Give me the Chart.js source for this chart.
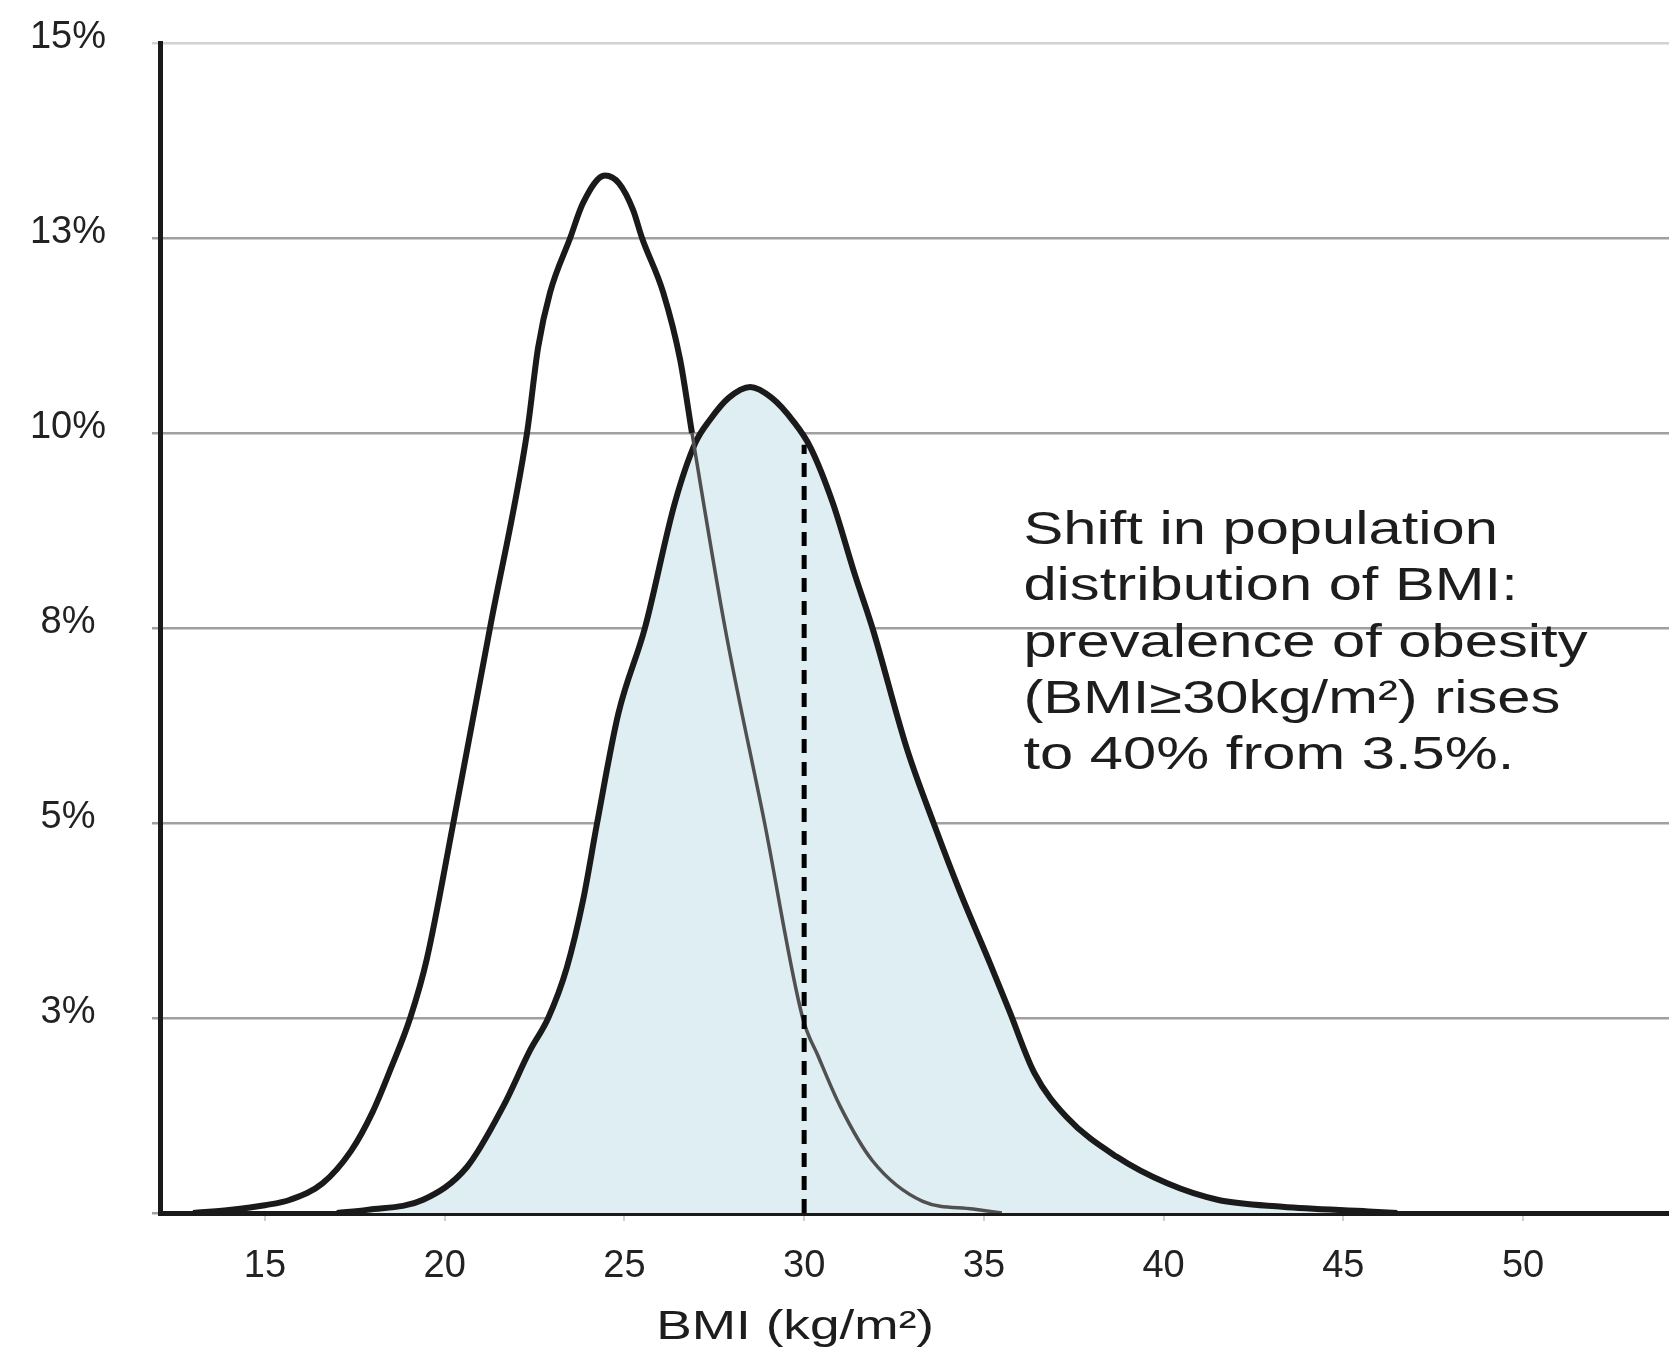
<!DOCTYPE html>
<html>
<head>
<meta charset="utf-8">
<script src="https://cdn.jsdelivr.net/npm/chart.js@4.4.1/dist/chart.umd.min.js"></script>
<style>
  html, body { margin: 0; padding: 0; background: #fff; }
  #bmiChart { display: block; }
</style>
</head>
<body>
<canvas id="bmiChart" width="1669" height="1353"></canvas>
<script>
// population BMI distribution, before the shift (white curve)
const bmiBefore = [13.0, 14.0, 15.0, 15.7, 16.6, 17.4, 18.0, 18.5, 19.04, 19.5, 20.24, 21.26, 22.29, 22.6, 22.93, 23.49, 23.85, 24.46, 24.85, 25.24, 25.49, 26.08, 26.55, 26.88, 27.8, 28.9, 29.96, 30.4, 31.0, 31.9, 33.3, 34.7, 35.5];
const pctBefore = [0.0, 0.04, 0.1, 0.17, 0.38, 0.8, 1.3, 1.85, 2.5, 3.25, 5.0, 7.5, 10.0, 11.1, 11.8, 12.5, 12.95, 13.3, 13.2, 12.86, 12.5, 11.8, 10.94, 10.0, 7.5, 5.0, 2.5, 2.0, 1.37, 0.67, 0.15, 0.05, 0.0];

// after the shift (shaded curve)
const bmiAfter = [17.0, 17.84, 19.4, 20.62, 21.62, 22.38, 22.88, 23.4, 23.85, 24.24, 24.83, 25.57, 26.4, 26.97, 27.38, 27.9, 28.5, 29.1, 29.7, 30.17, 30.8, 31.4, 31.9, 32.86, 33.6, 34.35, 35.17, 35.7, 36.4, 37.3, 38.7, 40.1, 41.5, 43.3, 45.7, 46.5];
const pctAfter = [0.0, 0.04, 0.17, 0.59, 1.36, 2.09, 2.5, 3.15, 4.01, 5.0, 6.4, 7.5, 9.1, 9.87, 10.17, 10.45, 10.59, 10.45, 10.15, 9.82, 9.1, 8.2, 7.5, 5.95, 5.0, 4.1, 3.2, 2.6, 1.8, 1.23, 0.72, 0.38, 0.17, 0.08, 0.02, 0.0];

// obesity threshold marker
const cutoffBmi = [30, 30];
const cutoffPct = [0, 9.85];

const xTickValues = [15, 20, 25, 30, 35, 40, 45, 50];
const xRange = [12.08, 54.06];
const yRange = [0, 15];
const yStep = 2.5;

const xTitle = 'BMI (kg/m\u00b2)';
const noteLines = [
  'Shift in population',
  'distribution of BMI:',
  'prevalence of obesity',
  '(BMI\u226530kg/m\u00b2) rises',
  'to 40% from 3.5%.'
];

const FONT = '"Liberation Sans", Arial, Helvetica, sans-serif';
const INK = '#1a1a1a';

function toPoints(xs, ys) {
  return xs.map((x, i) => ({ x: x, y: ys[i] }));
}

// stretched text, the source figure is widened horizontally
function stretchedText(ctx, text, x, y, size, stretch, align) {
  ctx.save();
  ctx.font = size + 'px ' + FONT;
  ctx.fillStyle = '#1d1d1d';
  ctx.textBaseline = 'alphabetic';
  ctx.textAlign = align;
  ctx.translate(x, y);
  ctx.scale(stretch, 1);
  ctx.fillText(text, 0, 0);
  ctx.restore();
}

const textPlugin = {
  id: 'textPlugin',
  afterDraw(chart) {
    const ctx = chart.ctx;
    const xs = chart.scales.x;
    const ys = chart.scales.y;

    // axis title
    stretchedText(ctx, xTitle, xs.getPixelForValue(29.75), chart.height - 14, 40, 1.33, 'center');

    // annotation
    const left = xs.getPixelForValue(36.1);
    const top = ys.getPixelForValue(8.58);
    noteLines.forEach((line, i) => {
      stretchedText(ctx, line, left, top + i * 56.4, 47, 1.27, 'left');
    });
  }
};

const ctx = document.getElementById('bmiChart');

new Chart(ctx, {
  type: 'line',
  data: {
    datasets: [
      {
        label: 'cutoff',
        data: toPoints(cutoffBmi, cutoffPct),
        borderColor: '#000',
        borderWidth: 5,
        borderDash: [14, 9],
        pointRadius: 0,
        fill: false,
        order: 0
      },
      {
        label: 'before',
        data: toPoints(bmiBefore, pctBefore),
        borderColor: INK,
        borderWidth: 6,
        pointRadius: 0,
        fill: false,
        cubicInterpolationMode: 'monotone',
        segment: {
          borderColor: c => c.p0.parsed.x >= 26.88 ? '#505050' : INK,
          borderWidth: c => c.p0.parsed.x >= 26.88 ? 3.5 : 6
        },
        order: 1
      },
      {
        label: 'after',
        data: toPoints(bmiAfter, pctAfter),
        borderColor: INK,
        borderWidth: 6,
        backgroundColor: '#dfeef3',
        pointRadius: 0,
        fill: 'origin',
        cubicInterpolationMode: 'monotone',
        order: 2
      }
    ]
  },
  options: {
    responsive: false,
    animation: false,
    devicePixelRatio: 1,
    layout: { padding: { top: 43, right: 0, bottom: 0, left: 0 } },
    plugins: {
      legend: { display: false },
      tooltip: { enabled: false }
    },
    scales: {
      x: {
        type: 'linear',
        min: xRange[0],
        max: xRange[1],
        afterBuildTicks: axis => {
          axis.ticks = xTickValues.map(v => ({ value: v }));
        },
        afterFit: axis => { axis.height = 140; },
        grid: {
          drawOnChartArea: false,
          tickLength: 8,
          color: '#cfcfcf',
          lineWidth: 2
        },
        border: { color: INK, width: 5 },
        ticks: {
          padding: 23,
          color: '#222',
          font: { family: FONT, size: 38 },
          maxRotation: 0,
          callback: v => String(v)
        }
      },
      y: {
        min: yRange[0],
        max: yRange[1],
        afterFit: axis => {
          axis.width = 160;
          axis.paddingTop = 0;
          axis.paddingBottom = 0;
        },
        grid: {
          tickLength: 8,
          color: c => c.tick && c.tick.value === yRange[1] ? '#d2d2d2' : '#a0a0a0',
          lineWidth: 2.5
        },
        border: { color: INK, width: 5 },
        ticks: {
          stepSize: yStep,
          padding: 46,
          crossAlign: 'center',
          labelOffset: -5,
          color: '#222',
          font: { family: FONT, size: 38 },
          callback: v => v === 0 ? '' : Math.round(v) + '%'
        }
      }
    }
  },
  plugins: [textPlugin]
});
</script>
</body>
</html>
